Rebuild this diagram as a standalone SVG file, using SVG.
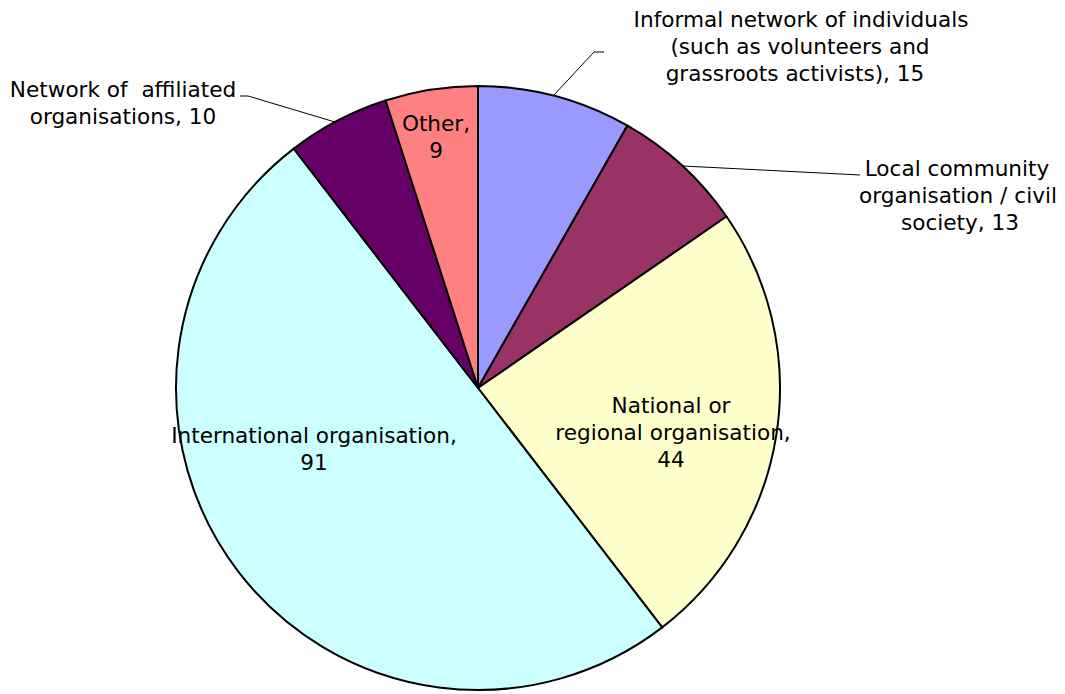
<svg xmlns="http://www.w3.org/2000/svg" width="1065" height="694" viewBox="0 0 1065 694">
<style>
.s{stroke:#000;stroke-width:2;stroke-linejoin:round}
.t{font-family:"DejaVu Sans",Verdana,sans-serif;font-size:21.6px;fill:#000;text-anchor:middle;white-space:pre}
.l{fill:none;stroke:#000;stroke-width:1}
</style>
<rect width="1065" height="694" fill="#fff"/>
<g id="slice-informal"><path class="s" fill="#9999FF" d="M478,388 L478,86 A302,302 0 0 1 627.5,125.6 Z"/></g>
<g id="slice-local"><path class="s" fill="#993366" d="M478,388 L627.5,125.6 A302,302 0 0 1 726.5,216.5 Z"/></g>
<g id="slice-national"><path class="s" fill="#FFFFCC" d="M478,388 L726.5,216.5 A302,302 0 0 1 662.2,627.4 Z"/></g>
<g id="slice-international"><path class="s" fill="#CCFFFF" d="M478,388 L662.2,627.4 A302,302 0 0 1 293.8,148.6 Z"/></g>
<g id="slice-network"><path class="s" fill="#660066" d="M478,388 L293.8,148.6 A302,302 0 0 1 385.6,100.5 Z"/></g>
<g id="slice-other"><path class="s" fill="#FF8080" d="M478,388 L385.6,100.5 A302,302 0 0 1 478,86 Z"/></g>
<g id="connectors">
<polyline class="l" points="240,96 248,96 335,122"/>
<polyline class="l" points="604,52 594,52 553,96"/>
<polyline class="l" points="683,166 860,175"/>
</g>
<g id="label-informal"><text class="t" x="801" y="27">Informal network of individuals</text><text class="t" x="800" y="54">(such as volunteers and</text><text class="t" x="795" y="81">grassroots activists), 15</text></g>
<g id="label-network"><text class="t" x="123" y="97" xml:space="preserve">Network of  affiliated</text><text class="t" x="123" y="124">organisations, 10</text></g>
<g id="label-local"><text class="t" x="957" y="176">Local community</text><text class="t" x="958" y="203">organisation / civil</text><text class="t" x="960" y="230">society, 13</text></g>
<g id="label-other"><text class="t" x="436" y="131">Other,</text><text class="t" x="436" y="158">9</text></g>
<g id="label-international"><text class="t" x="314" y="443">International organisation,</text><text class="t" x="314" y="470">91</text></g>
<g id="label-national"><text class="t" x="671" y="413">National or</text><text class="t" x="673" y="440">regional organisation,</text><text class="t" x="671" y="467">44</text></g>
</svg>
